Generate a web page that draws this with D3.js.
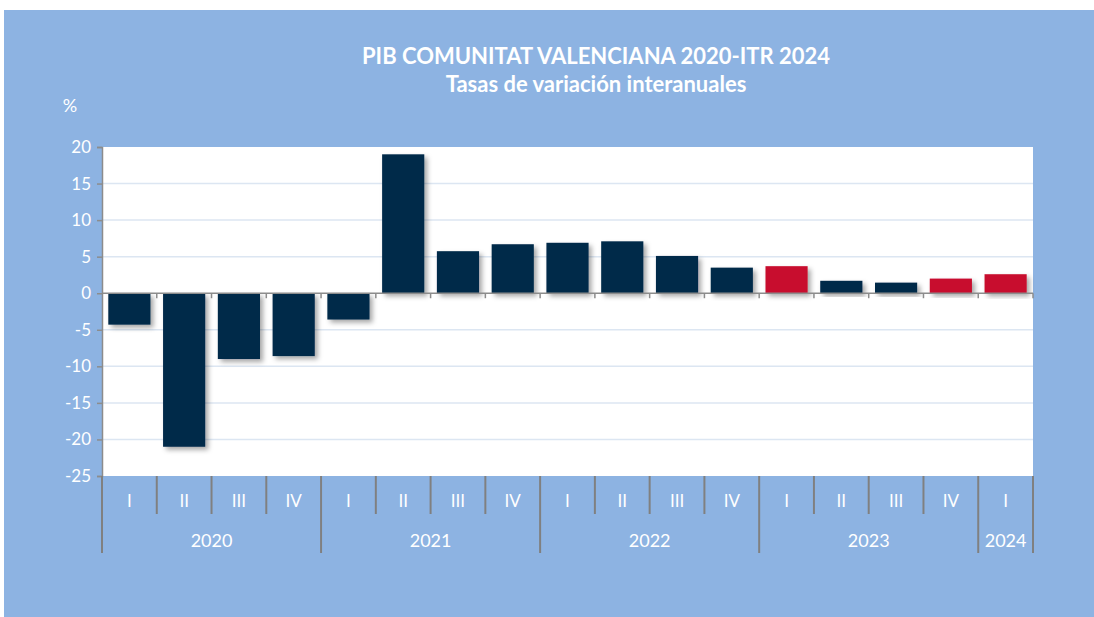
<!DOCTYPE html>
<html><head><meta charset="utf-8">
<script src="https://cdn.jsdelivr.net/npm/d3@7"></script>
<style>
html,body{margin:0;padding:0;background:#fff;}
svg{display:block;}
text{font-family:Lato,"Open Sans",sans-serif;fill:#fff;}
</style></head>
<body>
<script>
const quarters = ["I","II","III","IV","I","II","III","IV","I","II","III","IV","I","II","III","IV","I"];
const years = ["2020","2021","2022","2023","2024"];
const yearSpans = [4,4,4,4,1];
const values = [-4.3,-21.0,-9.0,-8.6,-3.6,19.0,5.75,6.7,6.9,7.1,5.1,3.5,3.7,1.7,1.45,2.0,2.6];
const highlighted = [false,false,false,false,false,false,false,false,false,false,false,false,true,false,false,true,true];
const yTicks = [20,15,10,5,0,-5,-10,-15,-20,-25];
const title1 = "PIB COMUNITAT VALENCIANA 2020-ITR 2024";
const title2 = "Tasas de variación interanuales";

const W=1094,H=617;
const svg=d3.select("body").append("svg").attr("width",W).attr("height",H);
const defs=svg.append("defs");
const f=defs.append("filter").attr("id","sh").attr("x","-20%").attr("y","-20%").attr("width","150%").attr("height","150%");
f.append("feDropShadow").attr("dx",3).attr("dy",3).attr("stdDeviation",2.5).attr("flood-color","#000").attr("flood-opacity",0.35);

svg.append("rect").attr("x",4).attr("y",10).attr("width",W-4).attr("height",H-10).attr("fill","#8DB3E2");

const L=102,R=1033,T=147,B=476;
const x=d3.scaleBand().domain(d3.range(values.length)).range([L,R]).paddingInner(0.23).paddingOuter(0.115);
const y=d3.scaleLinear().domain([-25,20]).range([B,T]);
const step=(R-L)/values.length;

svg.append("rect").attr("x",L).attr("y",T).attr("width",R-L).attr("height",B-T).attr("fill","#fff");

// gridlines
svg.append("g").selectAll("line").data(yTicks.filter(d=>d!==0&&d!==-25&&d!==20)).join("line")
 .attr("x1",L).attr("x2",R).attr("y1",d=>y(d)).attr("y2",d=>y(d))
 .attr("stroke","#DCE6F2").attr("stroke-width",1.5);

// y axis
const ya=svg.append("g").attr("transform",`translate(${L},0)`)
 .call(d3.axisLeft(y).tickValues(yTicks).tickSize(5).tickPadding(6).tickFormat(d=>String(d)));
ya.select(".domain").attr("stroke","#8c8c8c").attr("stroke-width",1.5);
ya.selectAll(".tick line").attr("stroke","#8c8c8c").attr("stroke-width",1.5);
ya.selectAll(".tick text").attr("fill","#fff").style("font-size","17px").style("font-family","Lato,'Open Sans',sans-serif");

// bars
svg.append("g").selectAll("rect").data(values).join("rect")
 .attr("x",(d,i)=>x(i)).attr("width",x.bandwidth())
 .attr("y",d=>y(Math.max(0,d))).attr("height",d=>Math.abs(y(d)-y(0)))
 .attr("fill",(d,i)=>highlighted[i]?"#C8102E":"#002A4A")
 .attr("filter","url(#sh)");

// zero line with ticks
svg.append("line").attr("x1",L).attr("x2",R).attr("y1",y(0)).attr("y2",y(0)).attr("stroke","#8c8c8c").attr("stroke-width",1.5);
svg.append("g").selectAll("line").data(d3.range(1,values.length+1)).join("line")
 .attr("x1",i=>L+i*step).attr("x2",i=>L+i*step).attr("y1",y(0)).attr("y2",y(0)+5)
 .attr("stroke","#8c8c8c").attr("stroke-width",1.5);

// bottom axis category separators
const sepG=svg.append("g");
let cum=[0];yearSpans.forEach(s=>cum.push(cum[cum.length-1]+s));
for(let i=0;i<=values.length;i++){
  const isYear=cum.includes(i);
  sepG.append("line").attr("x1",L+i*step).attr("x2",L+i*step).attr("y1",B).attr("y2",isYear?553:514)
   .attr("stroke","#808080").attr("stroke-width",2);
}
svg.append("g").selectAll("text").data(quarters).join("text")
 .attr("x",(d,i)=>L+(i+0.5)*step).attr("y",507).attr("text-anchor","middle").style("font-size","17px").text(d=>d);
svg.append("g").selectAll("text").data(years).join("text")
 .attr("x",(d,i)=>L+(cum[i]+yearSpans[i]/2)*step).attr("y",547).attr("text-anchor","middle").style("font-size","18px").text(d=>d);

// titles
svg.append("text").attr("x",596).attr("y",64).attr("text-anchor","middle").style("font-size","22px").style("font-weight","bold").text(title1);
svg.append("text").attr("x",596).attr("y",92).attr("text-anchor","middle").style("font-size","22px").style("font-weight","bold").text(title2);
svg.append("text").attr("x",70).attr("y",112).attr("text-anchor","middle").style("font-size","18px").text("%");
</script>
</body></html>
